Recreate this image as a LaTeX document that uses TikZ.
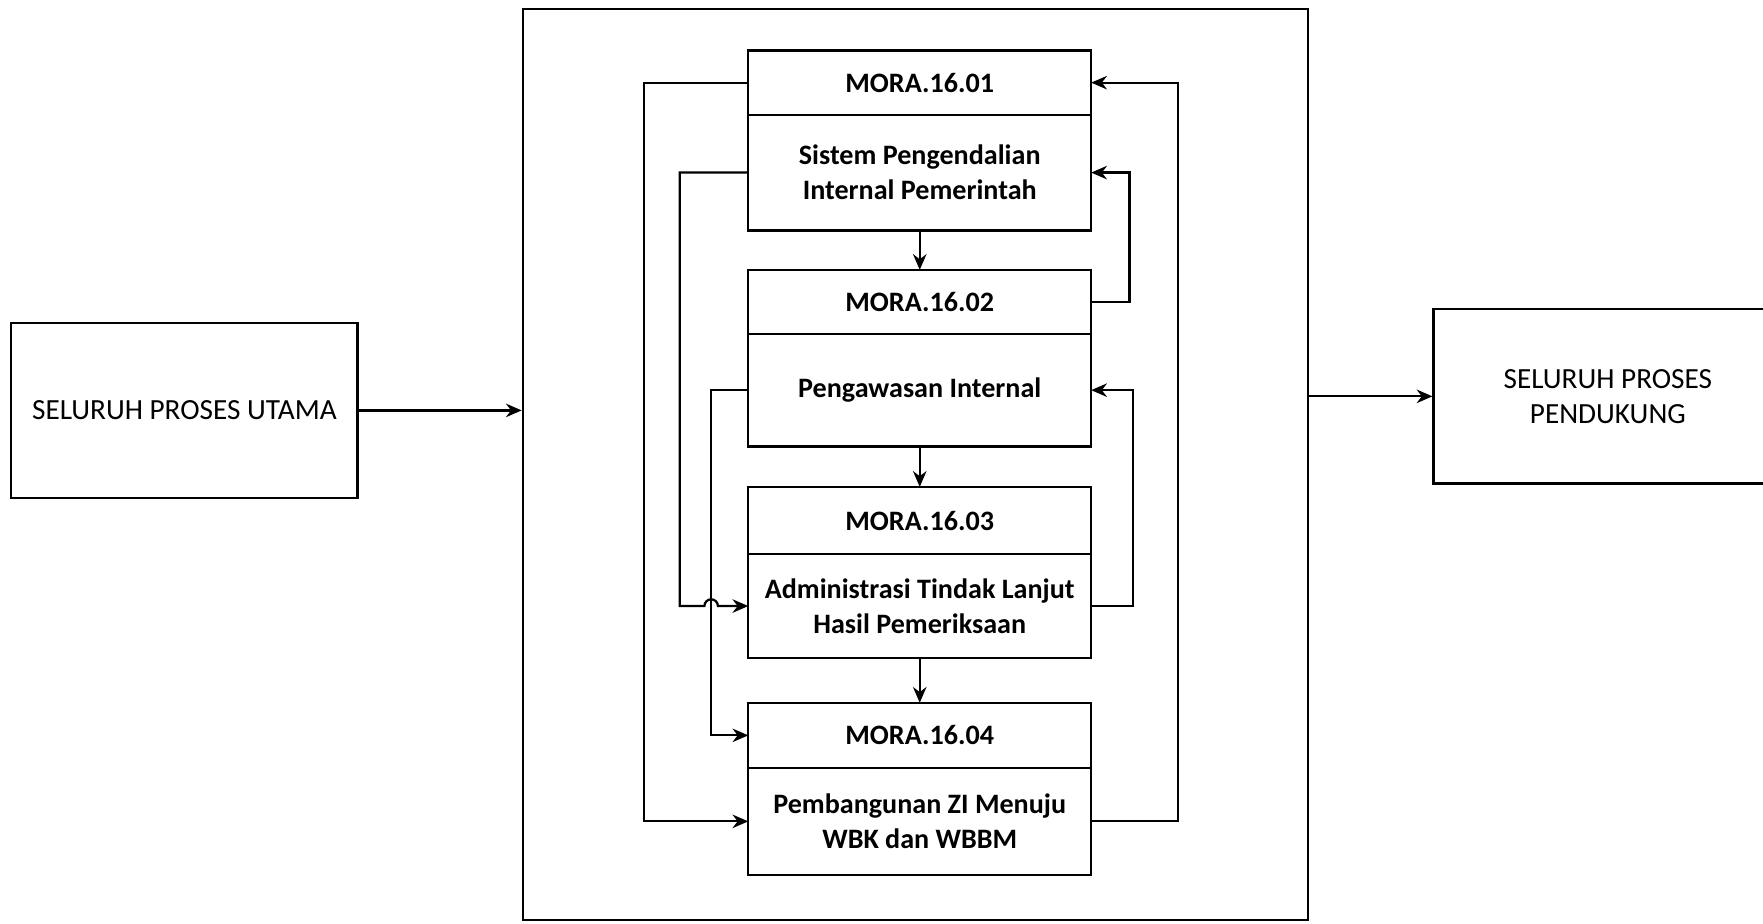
\documentclass[tikz,border=0pt]{standalone}
\usepackage{fontspec}
\setmainfont{Carlito}
\usetikzlibrary{positioning,arrows.meta,calc}

\tikzset{
  proc/.style={draw, line width=1pt, align=center, font=\fontsize{13}{15.5}\selectfont},
  head/.style={draw, line width=1pt, outer sep=0pt, minimum width=152.5pt, align=center,
    font=\bfseries\fontsize{12.5}{15.5}\selectfont},
  arr/.style={-{Stealth[length=7pt,width=6pt]}, line width=1pt},
}

\begin{document}
\begin{tikzpicture}[x=0.5pt,y=-0.5pt]
\useasboundingbox (0,0) rectangle (1568,821);
\clip (0,0) rectangle (1568,821);
% main processes
\node[proc, minimum width=154pt, minimum height=78pt] (utama) at (164,365) {SELURUH PROSES UTAMA};
\node[proc, minimum width=155pt, minimum height=77.5pt] (dukung) at (1430,352.5) {SELURUH PROSES\\PENDUKUNG};
\node[draw, line width=1pt, minimum width=349pt, minimum height=405pt] (grup) at (814,413) {};

% MORA.16 sub processes
\node[head, minimum height=28.5pt] (m1h) at (818,73.5) {MORA.16.01};
\node[head, minimum height=51.5pt, below=0pt of m1h] (m1b) {Sistem Pengendalian\\Internal Pemerintah};
\node[head, minimum height=28.5pt, below=17.5pt of m1b] (m2h) {MORA.16.02};
\node[head, minimum height=50pt, below=0pt of m2h] (m2b) {Pengawasan Internal};
\node[head, minimum height=30pt, below=18pt of m2b] (m3h) {MORA.16.03};
\node[head, minimum height=46pt, below=0pt of m3h] (m3b) {Administrasi Tindak Lanjut\\Hasil Pemeriksaan};
\node[head, minimum height=29pt, below=20pt of m3b] (m4h) {MORA.16.04};
\node[head, minimum height=47.5pt, below=0pt of m4h] (m4b) {Pembangunan ZI Menuju\\WBK dan WBBM};

% flow between sub processes
\draw[arr] (m1b.south) -- (m2h.north);
\draw[arr] (m2b.south) -- (m3h.north);
\draw[arr] (m3b.south) -- (m4h.north);

% loops on the left
\draw[arr] (m1h.west) -- ++(-93,0) |- (m4b.west);
\draw[arr] (m1b.west) -- ++(-61,0) |- ($(m3b.west)+(-39,0)$)
  arc[start angle=180, end angle=360, radius=6] -- (m3b.west);
\draw[arr] (m2b.west) -- ++(-33,0) |- (m4h.west);

% loops on the right
\draw[arr] (m4b.east) -- ++(77,0) |- (m1h.east);
\draw[arr] (m2h.east) -- ++(34,0) |- (m1b.east);
\draw[arr] (m3b.east) -- ++(37,0) |- (m2b.east);

% in and out
\draw[arr] (utama.east) -- (utama.east -| grup.west);
\draw[arr] (grup.east |- dukung.west) -- (dukung.west);
\end{tikzpicture}
\end{document}
